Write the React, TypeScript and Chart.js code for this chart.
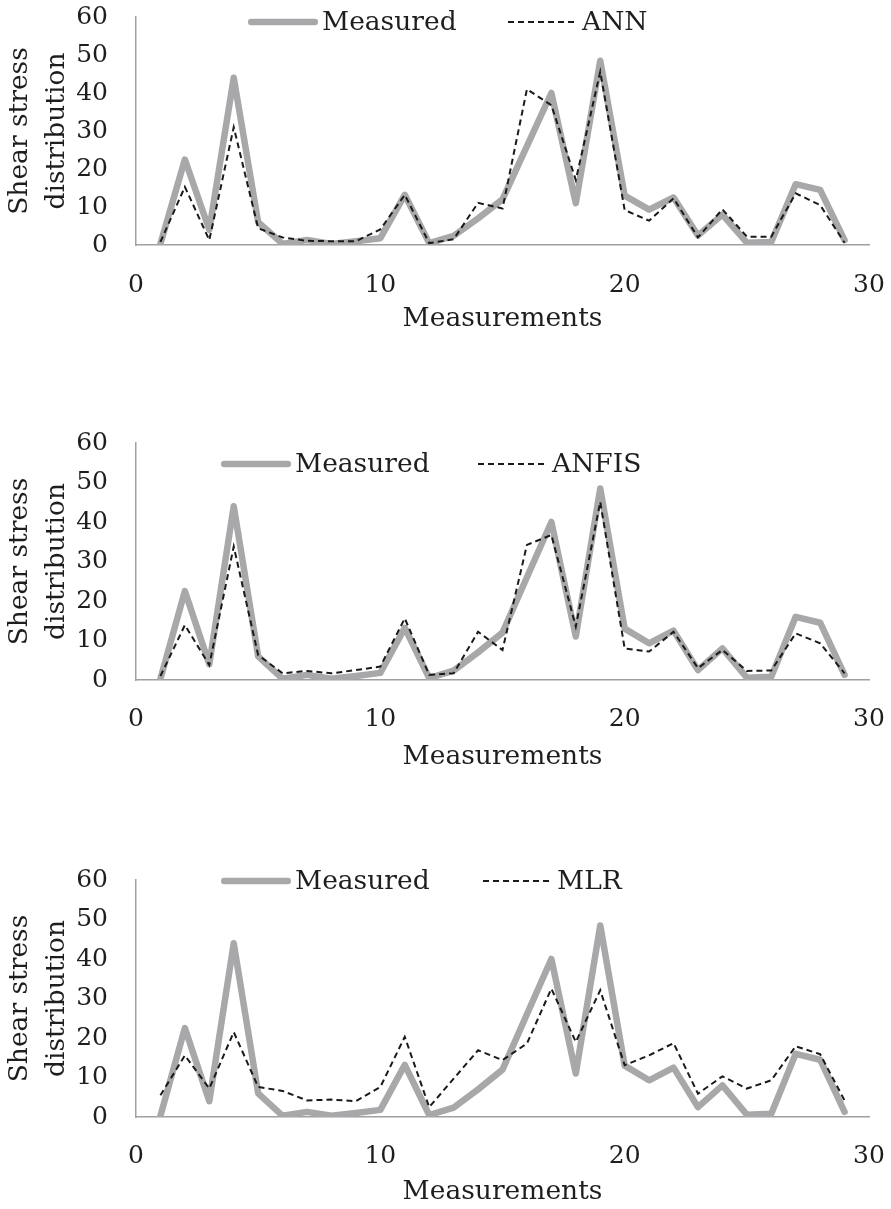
import React, { useEffect, useRef } from "react";
import { Chart, registerables } from "chart.js";

Chart.register(...registerables);

// ---------------- data ----------------
const MEASUREMENTS = [1, 2, 3, 4, 5, 6, 7, 8, 9, 10, 11, 12, 13, 14, 15, 16, 17, 18, 19, 20, 21, 22, 23, 24, 25, 26, 27, 28, 29];
const MEASURED = [0.3, 22.5, 4, 44, 6, 0.3, 1.3, 0.3, 1, 1.8, 13.2, 0.5, 2.4, 7, 12, 26, 40, 11, 48.5, 13, 9.3, 12.5, 2.5, 8, 0.6, 0.8, 16, 14.5, 1.3];
const ANN = [0.8, 15.3, 1.3, 31, 4.4, 2, 1.1, 1, 1, 4.1, 13.2, 0.5, 1.5, 11.1, 9.6, 41, 36.8, 17.1, 45.6, 9.2, 6.4, 12.3, 2, 9.4, 2.2, 2.2, 13.6, 10.5, 0.6];
const ANFIS = [1, 13.9, 3.8, 33.8, 6.3, 1.7, 2.3, 1.7, 2.5, 3.4, 15.6, 1.3, 1.7, 12.2, 7.6, 34.2, 36.7, 13.5, 45.1, 8, 7.2, 12.2, 3, 7.6, 2.3, 2.4, 11.8, 9.3, 1.7];
const MLR = [5.5, 15.6, 7.2, 21.5, 7.6, 6.6, 4.2, 4.4, 4, 7.6, 20.3, 2.5, 9.7, 16.9, 14.4, 18.6, 32.5, 19, 32.1, 13.1, 15.6, 18.7, 5.9, 10.3, 7.2, 9.3, 17.9, 15.9, 4.2];

const X_MIN = 0;
const X_MAX = 30;
const X_STEP = 10;
const Y_MIN = 0;
const Y_MAX = 60;
const Y_STEP = 10;
const X_TITLE = "Measurements";
const Y_TITLE = ["Shear stress", "distribution"];
const MEASURED_LABEL = "Measured";

// ---------------- styles ----------------
const FONT = '"DejaVu Serif", "Liberation Serif", serif';
const TEXT = "#1e1e1e";
const GRAY = "#a8a8aa";
const DASH = "#1a1a1a";
const AXIS = "#a0a0a0";
const W = 891;
const TICK_SIZE = 25;
const TITLE_SIZE = 26.5;

type Panel = {
  label: string;
  values: number[];
  top: number;
  height: number;
  areaTop: number;
  areaBottom: number;
  tickGap: number;
  titleGap: number;
  legendY: number;
  legendX: number[];
};

const PANELS: Panel[] = [
  { label: "ANN", values: ANN, top: 0, height: 430, areaTop: 17, areaBottom: 245, tickGap: 40, titleGap: 74, legendY: 22, legendX: [248, 508] },
  { label: "ANFIS", values: ANFIS, top: 428, height: 437, areaTop: 15, areaBottom: 252, tickGap: 39, titleGap: 77, legendY: 36, legendX: [221, 478] },
  { label: "MLR", values: MLR, top: 865, height: 344, areaTop: 15, areaBottom: 252, tickGap: 39, titleGap: 75, legendY: 16, legendX: [221, 483] },
];

const legendPlugin = {
  id: "customLegend",
  afterDraw(chart: any, _args: any, opts: any) {
    const ctx = chart.ctx as CanvasRenderingContext2D;
    const sampleLen = 70;
    ctx.save();
    const order = [1, 0];
    order.forEach((dsIndex, i) => {
      const ds = chart.data.datasets[dsIndex];
      const x = opts.xs[i];
      const y = opts.y;
      ctx.beginPath();
      ctx.strokeStyle = ds.borderColor;
      ctx.lineWidth = ds.borderWidth;
      ctx.lineCap = ds.borderDash && ds.borderDash.length ? "butt" : "round";
      ctx.setLineDash(ds.borderDash || []);
      const pad = ctx.lineCap === "round" ? ds.borderWidth / 2 : 0;
      ctx.moveTo(x + pad, y);
      ctx.lineTo(x + sampleLen - pad, y);
      ctx.stroke();
      ctx.setLineDash([]);
      ctx.fillStyle = TEXT;
      ctx.font = `${TITLE_SIZE}px ${FONT}`;
      ctx.textBaseline = "middle";
      ctx.textAlign = "left";
      ctx.fillText(ds.label, x + sampleLen + 4, y + 1);
    });
    ctx.restore();
  },
};

function PanelChart({ panel }: { panel: Panel }) {
  const ref = useRef<HTMLCanvasElement | null>(null);
  useEffect(() => {
    if (!ref.current) return;
    const plotLeft = 136;
    const plotRight = 869;
    const tickLH = TICK_SIZE * 1.2;
    const titleLH = TITLE_SIZE * 1.2;
    const xScaleHeight = panel.titleGap + titleLH / 2;
    const bottomPad = panel.height - panel.areaBottom - xScaleHeight;
    const chart = new Chart(ref.current, {
      type: "line",
      data: {
        datasets: [
          {
            label: panel.label,
            data: MEASUREMENTS.map((m, i) => ({ x: m, y: panel.values[i] })),
            borderColor: DASH,
            borderWidth: 2,
            borderDash: [6, 4],
            pointRadius: 0,
            tension: 0,
            fill: false,
            order: 1,
          },
          {
            label: MEASURED_LABEL,
            data: MEASUREMENTS.map((m, i) => ({ x: m, y: MEASURED[i] })),
            borderColor: GRAY,
            borderWidth: 6.5,
            borderJoinStyle: "round",
            borderCapStyle: "round",
            pointRadius: 0,
            tension: 0,
            fill: false,
            order: 2,
          },
        ],
      },
      options: {
        responsive: false,
        animation: false,
        devicePixelRatio: 1,
        layout: {
          padding: { top: panel.areaTop, right: W - plotRight, bottom: bottomPad, left: 0 },
        },
        plugins: {
          legend: { display: false },
          tooltip: { enabled: false },
          customLegend: { xs: panel.legendX, y: panel.legendY },
        } as any,
        scales: {
          x: {
            type: "linear",
            min: X_MIN,
            max: X_MAX,
            grid: { display: false, drawTicks: false },
            border: { display: true, color: AXIS, width: 1.5 },
            ticks: {
              stepSize: X_STEP,
              color: TEXT,
              font: { family: FONT, size: TICK_SIZE },
              padding: panel.tickGap - tickLH / 2,
              maxRotation: 0,
            },
            title: {
              display: true,
              text: X_TITLE,
              color: TEXT,
              font: { family: FONT, size: TITLE_SIZE },
              padding: { top: 0, bottom: 0 },
            },
            afterFit: (scale: any) => {
              scale.height = xScaleHeight;
              scale.paddingLeft = 0;
              scale.paddingRight = 0;
            },
          },
          y: {
            type: "linear",
            min: Y_MIN,
            max: Y_MAX,
            grid: { display: false, drawTicks: false },
            border: { display: true, color: AXIS, width: 1.5 },
            ticks: {
              stepSize: Y_STEP,
              color: TEXT,
              font: { family: FONT, size: TICK_SIZE },
              padding: 28,
            },
            title: {
              display: true,
              text: Y_TITLE,
              color: TEXT,
              font: { family: FONT, size: TITLE_SIZE, lineHeight: 1.42 },
              padding: { top: 1, bottom: 0 },
            },
            afterFit: (scale: any) => {
              scale.width = plotLeft;
              scale.paddingTop = 0;
              scale.paddingBottom = 0;
            },
          },
        },
      },
      plugins: [legendPlugin],
    });
    return () => chart.destroy();
  }, [panel]);
  return (
    <div style={{ position: "absolute", left: 0, top: panel.top, width: W, height: panel.height }}>
      <canvas ref={ref} width={W} height={panel.height} style={{ width: W, height: panel.height, display: "block" }} />
    </div>
  );
}

export default function App() {
  return (
    <div style={{ position: "absolute", left: 0, top: 0, width: W, height: 1209, background: "#fff" }}>
      {PANELS.map((p) => (
        <PanelChart key={p.label} panel={p} />
      ))}
    </div>
  );
}
